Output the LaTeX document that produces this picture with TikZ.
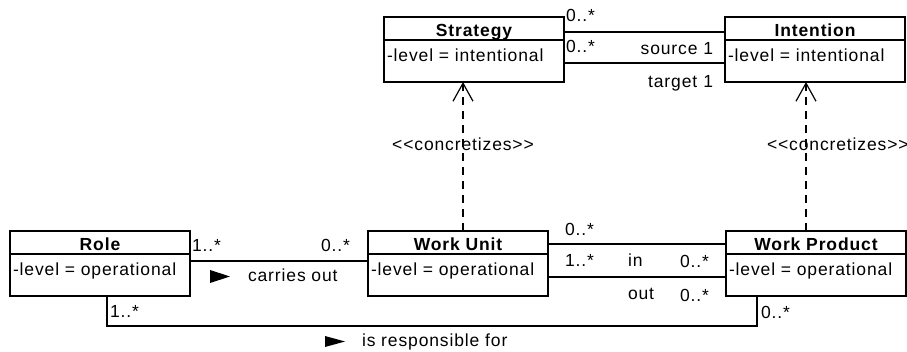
\documentclass[tikz,border=0pt]{standalone}
\usepackage{fontspec}
\setmainfont{Liberation Sans}[LetterSpace=5]
\usetikzlibrary{arrows.meta,calc}
\newcommand\UmlClass[5]{%
  \node[cls] (#1) at (#2,#3) {};
  \draw[line width=1.2pt] (#1.west |- 0,#3+23) -- (#1.east |- 0,#3+23);
  \node[ttl, anchor=base] (#1-t) at (#2+90,#3+20) {#4};
  \node[lbl, anchor=base west] (#1-a) at (#2+3,#3+45) {#5};
}
\begin{document}
\begin{tikzpicture}[x=1pt,y=-1pt,
  lbl/.style={font=\fontsize{17.5}{20}\selectfont, inner sep=0pt, outer sep=0pt},
  ttl/.style={font=\fontsize{17.5}{20}\selectfont\bfseries, inner sep=0pt, outer sep=0pt},
  cls/.style={draw, line width=1.2pt, minimum width=180pt, minimum height=65pt,
    anchor=north west, inner sep=0pt, outer sep=0pt},
  assoc/.style={line width=1.2pt},
  realize/.style={line width=1.2pt, dash pattern=on 8pt off 6pt,
    -{Straight Barb[length=18pt,width=20pt,line width=1.2pt]}},
]
\useasboundingbox (0,0) rectangle (907,352);

\UmlClass{strategy}{384}{17}{Strategy}{-level = intentional}
\UmlClass{intention}{725}{17}{Intention}{-level = intentional}
\UmlClass{role}{10}{231}{Role}{-level = operational}
\UmlClass{wu}{368}{231}{Work Unit}{-level = operational}
\UmlClass{wp}{726}{231}{Work Product}{-level = operational}

% Strategy -- Intention
\draw[assoc] (strategy.east |- 0,32) -- (intention.west |- 0,32);
\draw[assoc] (strategy.east |- 0,63) -- (intention.west |- 0,63);
\node[lbl, anchor=base west] (m1) at (566,21.5) {0..*};
\node[lbl, anchor=base west] (m2) at (566,53) {0..*};
\node[lbl, anchor=base east] (m3) at (713,55) {source 1};
\node[lbl, anchor=base east] (m4) at (713,88) {target\hspace{6pt}1};

% realizations
\draw[realize] (wu.north -| 463,0) -- (strategy.south -| 463,0);
\draw[realize] (wp.north -| 806,0) -- (intention.south -| 806,0);
\node[lbl, anchor=base] (c1) at (463,151) {<{}<concretizes>{}>};
\node[lbl, anchor=base west] (c2) at (767,151) {<{}<concretizes>{}>};

% Role -- Work Unit
\draw[assoc] (role.east |- 0,261) -- (wu.west |- 0,261);
\node[lbl, anchor=base west] (m5) at (192,252) {1..*};
\node[lbl, anchor=base east] (m6) at (350,252) {0..*};
\fill (210,270) -- (230,276.5) -- (210,283) -- cycle;
\node[lbl, anchor=base west] (ca) at (248,282) {carries out};

% Work Unit -- Work Product
\draw[assoc] (wu.east |- 0,244) -- (wp.west |- 0,244);
\draw[assoc] (wu.east |- 0,277) -- (wp.west |- 0,277);
\node[lbl, anchor=base west] (m7) at (565,236) {0..*};
\node[lbl, anchor=base west] (m8) at (565,267) {1..*};
\node[lbl, anchor=base west] (in) at (628,267) {in};
\node[lbl, anchor=base west] (m9) at (680,268) {0..*};
\node[lbl, anchor=base west] (out) at (628,300) {out};
\node[lbl, anchor=base west] (m10) at (680,302) {0..*};

% Role -- Work Product
\coordinate (b1) at (107,326);
\coordinate (b2) at (757,326);
\draw[assoc] (role.south -| b1) -- (b1) -- (b2) -- (wp.south -| b2);
\node[lbl, anchor=base west] (m11) at (110,318) {1..*};
\node[lbl, anchor=base west] (m12) at (761,319) {0..*};
\fill (325,336) -- (345,341.5) -- (325,347) -- cycle;
\node[lbl, anchor=base west] (ir) at (362,347) {is responsible for};
\end{tikzpicture}
\end{document}
